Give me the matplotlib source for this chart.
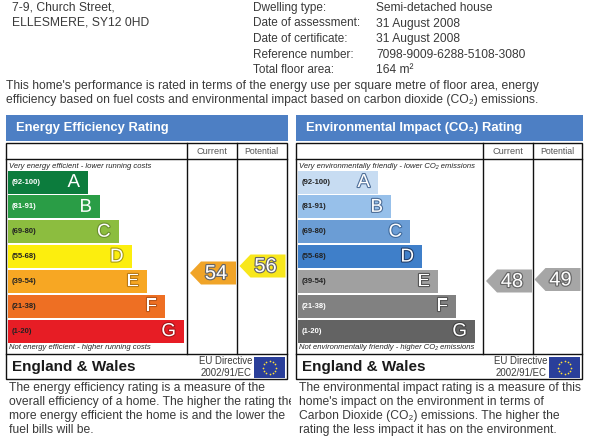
import numpy as np
import matplotlib
matplotlib.use('Agg')
import matplotlib.pyplot as plt
import matplotlib.patheffects as pe
from matplotlib.patches import Polygon, Rectangle

plt.rcParams['font.family'] = ['Liberation Sans', 'DejaVu Sans']

# Dados
faixas = ['(92-100)', '(81-91)', '(69-80)', '(55-68)', '(39-54)', '(21-38)', '(1-20)']
letras = ['A', 'B', 'C', 'D', 'E', 'F', 'G']
comprimento_energia = [80, 92, 110.5, 123.5, 139, 157, 176]
comprimento_co2 = [80, 93, 112, 124, 140, 158, 177]
cores_energia = ['#0c7c3d', '#2a9d46', '#8cbd3f', '#fcee0e', '#f7a723', '#ee6f23', '#e71d25']
cores_co2 = ['#c7dcf2', '#97c0ea', '#6b9dd5', '#3f7fc9', '#a0a0a0', '#818181', '#636363']
texto_faixa_energia = ['white', 'white', '#222222', '#222222', '#222222', '#222222', '#222222']
texto_faixa_co2 = ['#222222', '#222222', '#222222', '#222222', '#222222', 'white', 'white']
contorno_energia = ['#0c7c3d', '#2a9d46', '#6b8f2f', '#a89c10', '#b87a18', '#b8541a', '#a81418']
contorno_co2 = ['#4f6f99', '#4f6f99', '#3f6a9c', '#24406b', '#555555', '#555555', '#444444']
atual_energia, potencial_energia = 54, 56
atual_co2, potencial_co2 = 48, 49

endereco = ['7-9, Church Street,', 'ELLESMERE, SY12 0HD']
campos = ['Dwelling type:', 'Date of assessment:', 'Date of certificate:', 'Reference number:', 'Total floor area:']
valores = ['Semi-detached house', '31 August 2008', '31 August 2008', '7098-9009-6288-5108-3080', '164 m²']
intro = ["This home's performance is rated in terms of the energy use per square metre of floor area, energy",
         'efficiency based on fuel costs and environmental impact based on carbon dioxide (CO₂) emissions.']
texto_energia = ['The energy efficiency rating is a measure of the',
                 'overall efficiency of a home. The higher the rating the',
                 'more energy efficient the home is and the lower the',
                 'fuel bills will be.']
texto_co2 = ['The environmental impact rating is a measure of this',
             "home's impact on the environment in terms of",
             'Carbon Dioxide (CO₂) emissions. The higher the',
             'rating the less impact it has on the environment.']

fig = plt.figure(figsize=(5.9, 4.37), dpi=100)
ax = fig.add_axes([0, 0, 1, 1])
ax.set_xlim(0, 590)
ax.set_ylim(437, 0)
ax.axis('off')

CINZA = '#3a3a3a'


def seta(ax, x_dir, yc, valor, cor, contorno):
    # seta com a ponta para a esquerda
    larg, alt = 46, 23
    pts = [(x_dir, yc - alt / 2), (x_dir, yc + alt / 2), (x_dir - larg + 11, yc + alt / 2),
           (x_dir - larg, yc), (x_dir - larg + 11, yc - alt / 2)]
    ax.add_patch(Polygon(pts, closed=True, facecolor=cor, edgecolor='none', zorder=3))
    t = ax.text(x_dir - 20, yc + 0.5, str(valor), fontsize=14.5, color='white', ha='center', va='center',
                zorder=4)
    t.set_path_effects([pe.withStroke(linewidth=1.7, foreground=contorno)])


def painel(ax, x0, x1, xc1, xc2, titulo, topo, base, comprimentos, cores, cor_faixa, contornos,
           atual, potencial, cor_atual, cor_pot, texto, x_texto, clip_x, escala):
    # cabeçalho azul
    ax.add_patch(Rectangle((x0, 115), x1 - x0 + 1, 26, facecolor='#4d7fc4', edgecolor='none'))
    ax.text(x0 + 10, 128, titulo, fontsize=9.4, color='white', fontweight='bold', va='center')

    # moldura e colunas
    ax.add_patch(Rectangle((x0, 143), x1 - x0, 236, facecolor='white', edgecolor='#111111', lw=1))
    ax.plot([x0, x1], [159, 159], color='#111111', lw=1)
    ax.plot([x0, x1], [354, 354], color='#111111', lw=1)
    ax.plot([xc1, xc1], [143, 354], color='#111111', lw=1)
    ax.plot([xc2, xc2], [143, 354], color='#111111', lw=1)
    ax.text((xc1 + xc2) / 2, 152, 'Current', fontsize=6.6, color='#555555', ha='center', va='center')
    ax.text((xc2 + x1) / 2, 152, 'Potential', fontsize=6.3, color='#555555', ha='center', va='center')

    # barras
    esq = x0 + 2
    y = np.arange(len(faixas)) * 24.85 + 182
    ax.barh(y, comprimentos, height=23, left=esq, color=cores, edgecolor='none')
    for i in range(len(faixas)):
        ax.text(esq + 4, y[i], faixas[i], fontsize=5.5, fontweight='bold', color=cor_faixa[i], va='center')
        t = ax.text(esq + comprimentos[i] - 8, y[i] + 0.5, letras[i], fontsize=13.5,
                    color='white', ha='right', va='center')
        t.set_path_effects([pe.withStroke(linewidth=1.6, foreground=contornos[i])])

    ax.text(esq + 1, 166.5, topo, fontsize=5.5, style='italic', color='#222222', va='center')
    ax.text(esq + 1, 347.5, base, fontsize=5.5, style='italic', color='#222222', va='center')

    # setas de current e potential
    seta(ax, xc2 - 0.5, escala(atual), atual, cor_atual, '#666666')
    seta(ax, x1 - 1.5, escala(potencial), potencial, cor_pot, '#666666')

    # rodapé
    ax.text(x0 + 6, 367, 'England & Wales', fontsize=11, fontweight='bold', color='#1a1a1a', va='center')
    ax.text(x1 - 35, 361, 'EU Directive', fontsize=6.9, color=CINZA, ha='right', va='center')
    ax.text(x1 - 35, 373.5, '2002/91/EC', fontsize=6.9, color=CINZA, ha='right', va='center')
    ax.add_patch(Rectangle((x1 - 33, 357), 31, 21, facecolor='#2a3f9a', edgecolor='none'))
    ang = np.linspace(0, 2 * np.pi, 12, endpoint=False)
    ax.scatter(x1 - 17.5 + 6.5 * np.cos(ang), 367.5 + 6.5 * np.sin(ang), s=1.5, color='#ffe23a', lw=0)

    # texto explicativo
    for i, linha in enumerate(texto):
        t = ax.text(x_texto, 388 + i * 14, linha, fontsize=8.7, color=CINZA, va='center')
        t.set_clip_on(True)
        t.set_clip_path(Rectangle((0, 0), clip_x, 437, transform=ax.transData))


# topo da página
for i, linha in enumerate(endereco):
    ax.text(12, 8 + i * 14.5, linha, fontsize=8.7, color=CINZA, va='center')
for i in range(len(campos)):
    ax.text(253, 8 + i * 15.5, campos[i], fontsize=8.5, color=CINZA, va='center')
    ax.text(376.5, 8 + i * 15.5, valores[i], fontsize=8.65, color=CINZA, va='center')
for i, linha in enumerate(intro):
    ax.text(6, 86.5 + i * 14, linha, fontsize=8.7, color=CINZA, va='center')

painel(ax, 6, 287, 186.5, 236.5, 'Energy Efficiency Rating',
       'Very energy efficient - lower running costs', 'Not energy efficient - higher running costs',
       comprimento_energia, cores_energia, texto_faixa_energia, contorno_energia,
       atual_energia, potencial_energia, '#f0a428', '#f8e71c', texto_energia, 9, 291,
       lambda r: 273 - (r - 54) * 3.5)

painel(ax, 296, 582, 482.5, 532.5, 'Environmental Impact (CO₂) Rating',
       'Very environmentally friendly - lower CO₂ emissions', 'Not environmentally friendly - higher CO₂ emissions',
       comprimento_co2, cores_co2, texto_faixa_co2, contorno_co2,
       atual_co2, potencial_co2, '#a6a6a6', '#a6a6a6', texto_co2, 299, 590,
       lambda r: 281 - (r - 48) * 1.5)

fig.savefig('out.png', dpi=100)
